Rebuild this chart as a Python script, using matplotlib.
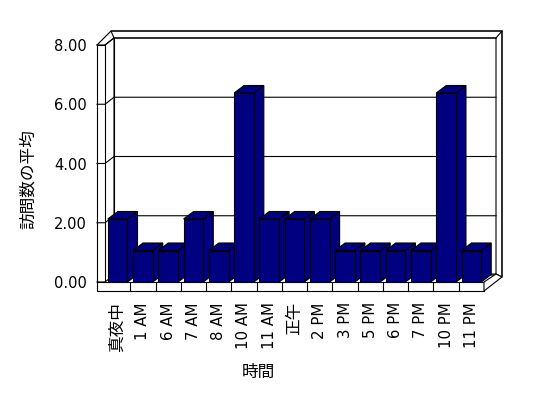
import matplotlib
matplotlib.use('Agg')
import matplotlib.pyplot as plt
from matplotlib.patches import Polygon
from matplotlib.lines import Line2D
from matplotlib.transforms import IdentityTransform

# ---- data ----
categories = ['真夜中', '1 AM', '6 AM', '7 AM', '8 AM', '10 AM', '11 AM', '正午',
              '2 PM', '3 PM', '5 PM', '6 PM', '7 PM', '10 PM', '11 PM']
values = [2, 1, 1, 2, 1, 6, 2, 2, 2, 1, 1, 1, 1, 6, 1]
y_ticks = [0, 2, 4, 6, 8]
y_tick_labels = ['0.00', '2.00', '4.00', '6.00', '8.00']
x_title = '時間'
y_title = '訪問数の平均'

plt.rcParams['font.family'] = ['DejaVu Sans', 'Noto Sans CJK JP']

W, H = 548, 398
fig = plt.figure(figsize=(W / 100, H / 100), dpi=100)
fig.patch.set_facecolor('white')

# plot-area geometry in pixels (top-origin)
L, R, B, T = 105, 484, 282, 45
pos = [L / W, (H - B) / H, (R - L) / W, (B - T) / H]
n = len(categories)

axw = fig.add_axes(pos)
axw.set_xlim(-0.5, n - 0.5)
axw.set_ylim(0, 8)
axw.set_facecolor('none')
for s in axw.spines.values():
    s.set_visible(False)
axw.set_yticks(y_ticks, y_tick_labels)
axw.set_xticks(range(n), categories, rotation=90)
axw.tick_params(axis='y', length=0, pad=13, labelsize=10.5)
axw.tick_params(axis='x', length=0, pad=14.5, labelsize=10.8)
for lab in axw.get_xticklabels():
    if not lab.get_text().isascii():
        lab.set_fontsize(12)
        lab.set_family(['Noto Sans CJK JP', 'DejaVu Sans'])

axb = fig.add_axes(pos)
axb.set_xlim(-0.5, n - 0.5)
bar_px_per_unit = 31.5
axb.set_ylim(0, (B - T) / bar_px_per_unit)
axb.axis('off')

IT = IdentityTransform()
lw = 0.8


def d(xp, yp):
    """top-origin pixel -> display coords"""
    return (xp, H - yp)


def line(pts, z=1):
    xs = [p[0] for p in pts]
    ys = [p[1] for p in pts]
    ln = Line2D(xs, ys, transform=IT, color='black', lw=lw, zorder=z, clip_on=False)
    axw.add_line(ln)


def poly(pts, fc, z=1, ax=axw):
    p = Polygon(pts, closed=True, transform=IT, facecolor=fc, edgecolor='black',
                lw=lw, zorder=z, clip_on=False)
    ax.add_patch(p)


# back wall slab (white)
poly([d(111, 31), d(502, 31), d(502, 277), d(496, 274), d(114, 275), d(114, 38)], 'white', z=0.5)
# left wall front face
poly([d(97, 45), d(105, 45), d(105, 282), d(97, 282)], 'white', z=1)
# left wall top / back wall top edges
line([d(97, 45), d(111, 31), d(502, 31), d(502, 277)])
line([d(105, 45), d(114, 38), d(496, 38), d(496, 274)])
line([d(496, 38), d(502, 31)])
line([d(114, 38), d(114, 275)])

# gridlines through the wall scale
for v in y_ticks:
    yd = axw.transData.transform((-0.5, v))[1]
    line([(97, yd), (105, yd), (114, yd + 7), (496, yd + 7)], z=1.2)

# floor
poly([d(97, 282), d(484, 282), d(484, 291), d(97, 291)], 'white', z=1.5)
poly([d(484, 282), d(496, 274), d(502, 277), d(484, 291)], 'white', z=1.5)
for k in range(1, n):
    xd = axw.transData.transform((k - 0.5, 0))[0]
    line([(xd, H - 282), (xd, H - 291)], z=1.6)

# bars
DX, DY = 10, 7.5
navy = '#000080'
bw = 0.78
for i, v in enumerate(values):
    (xl, y0) = axb.transData.transform((i - bw / 2, 0))
    (xr, yt) = axb.transData.transform((i + bw / 2, v))
    poly([(xr, y0), (xr, yt), (xr + DX, yt + DY), (xr + DX, y0 + DY)], navy, z=2, ax=axb)
    poly([(xl, yt), (xr, yt), (xr + DX, yt + DY), (xl + DX, yt + DY)], navy, z=2, ax=axb)
axb.bar(range(n), values, width=bw, color=navy, edgecolor='black', linewidth=lw, zorder=3)

# axis titles
fig.text(28 / W, 1 - 179 / H, y_title, rotation=90, ha='center', va='center',
         fontsize=12, family=['Noto Sans CJK JP', 'DejaVu Sans'])
fig.text(258 / W, 1 - 372 / H, x_title, ha='center', va='center',
         fontsize=12, family=['Noto Sans CJK JP', 'DejaVu Sans'])

fig.savefig('out.png', dpi=100)
